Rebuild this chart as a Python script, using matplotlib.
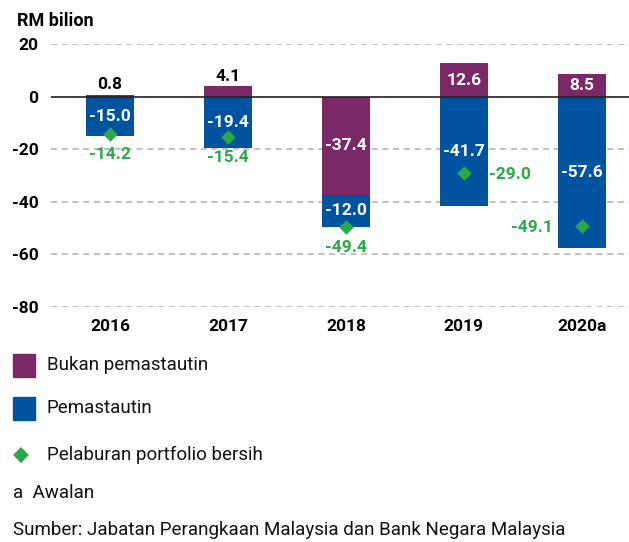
import matplotlib
matplotlib.use("Agg")
import matplotlib.pyplot as plt
from matplotlib.patches import Rectangle
from matplotlib.lines import Line2D

# data (RM bilion)
years = ["2016", "2017", "2018", "2019", "2020a"]
non_resident = [0.8, 4.1, -37.4, 12.6, 8.5]
resident = [-15.0, -19.4, -12.0, -41.7, -57.6]
net_portfolio = [-14.2, -15.4, -49.4, -29.0, -49.1]
y_ticks = [20, 0, -20, -40, -60, -80]

PURPLE = "#7B2869"
BLUE = "#00539F"
GREEN = "#2BA84A"

plt.rcParams["font.family"] = ["Roboto", "DejaVu Sans"]
plt.rcParams["axes.unicode_minus"] = False

fig = plt.figure(figsize=(6.29, 5.42), dpi=100)
ax = fig.add_axes([0.081, 0.4336, 0.919, 0.4852])

x = list(range(len(years)))
width = 0.41

# non-residents start at zero; residents stack below them when both are negative
res_bottom = [nr if nr < 0 else 0 for nr in non_resident]
ax.bar(x, non_resident, width, color=PURPLE, zorder=3)
ax.bar(x, resident, width, bottom=res_bottom, color=BLUE, zorder=3)
ax.scatter(x, net_portfolio, marker="D", s=55, color=GREEN, zorder=5, linewidths=0)

ax.axhline(0, color="#222222", lw=1.2, zorder=4)
for t in y_ticks:
    if t != 0:
        ax.axhline(t, color="#b0b0b0", lw=1.1, ls=(0, (4, 3)), zorder=1)

lbl = dict(fontsize=12.5, fontweight="bold", ha="center", va="center", zorder=6)

for i in x:
    nr = non_resident[i]
    if abs(nr) < 5:
        ax.annotate(f"{nr:.1f}", (i, nr), xytext=(0, 7), textcoords="offset points",
                    color="black", **lbl)
    else:
        ax.text(i, nr / 2, f"{nr:.1f}", color="white", **lbl)
    ax.text(i, res_bottom[i] + resident[i] / 2, f"{resident[i]:.1f}", color="white", **lbl)

    net = net_portfolio[i]
    if i == 3:
        ax.annotate(f"{net:.1f}", (i, net), xytext=(18, -1), textcoords="offset points",
                    color=GREEN, **{**lbl, "ha": "left"})
    elif i == 4:
        ax.annotate(f"{net:.1f}", (i, net), xytext=(-21, -1), textcoords="offset points",
                    color=GREEN, **{**lbl, "ha": "right"})
    else:
        ax.annotate(f"{net:.1f}", (i, net), xytext=(0, -15), textcoords="offset points",
                    color=GREEN, **lbl)

ax.set_xlim(-0.5, 4.4)
ax.set_ylim(-80, 20)
ax.set_yticks(y_ticks)
ax.set_xticks(x)
ax.set_xticklabels(years)
ax.tick_params(length=0, labelsize=12.5, pad=9)
for t in ax.get_xticklabels() + ax.get_yticklabels():
    t.set_fontweight("bold")
for s in ax.spines.values():
    s.set_visible(False)

fig.text(17 / 629, 1 - 21 / 542, "RM bilion", fontsize=13, fontweight="bold",
         ha="left", va="center")

# legend drawn by hand to keep the uneven spacing
def fx(px):
    return px / 629

def fy(py):
    return 1 - py / 542

fig.add_artist(Rectangle((fx(13), fy(377)), fx(22), 23 / 542, color=PURPLE,
                         transform=fig.transFigure))
fig.add_artist(Rectangle((fx(13), fy(420)), fx(22), 23 / 542, color=BLUE,
                         transform=fig.transFigure))
fig.add_artist(Line2D([fx(21)], [fy(455)], marker="D", markersize=8, color=GREEN,
                      markeredgewidth=0, transform=fig.transFigure))

txt = dict(fontsize=13.5, ha="left", va="center", color="#111111")
fig.text(fx(47), fy(365), "Bukan pemastautin", **txt)
fig.text(fx(47), fy(408), "Pemastautin", **txt)
fig.text(fx(47), fy(455), "Pelaburan portfolio bersih", **txt)
fig.text(fx(13), fy(493), "a  Awalan", **txt)
fig.text(fx(13), fy(530), "Sumber: Jabatan Perangkaan Malaysia dan Bank Negara Malaysia", **txt)

fig.savefig("out.png", dpi=100)
